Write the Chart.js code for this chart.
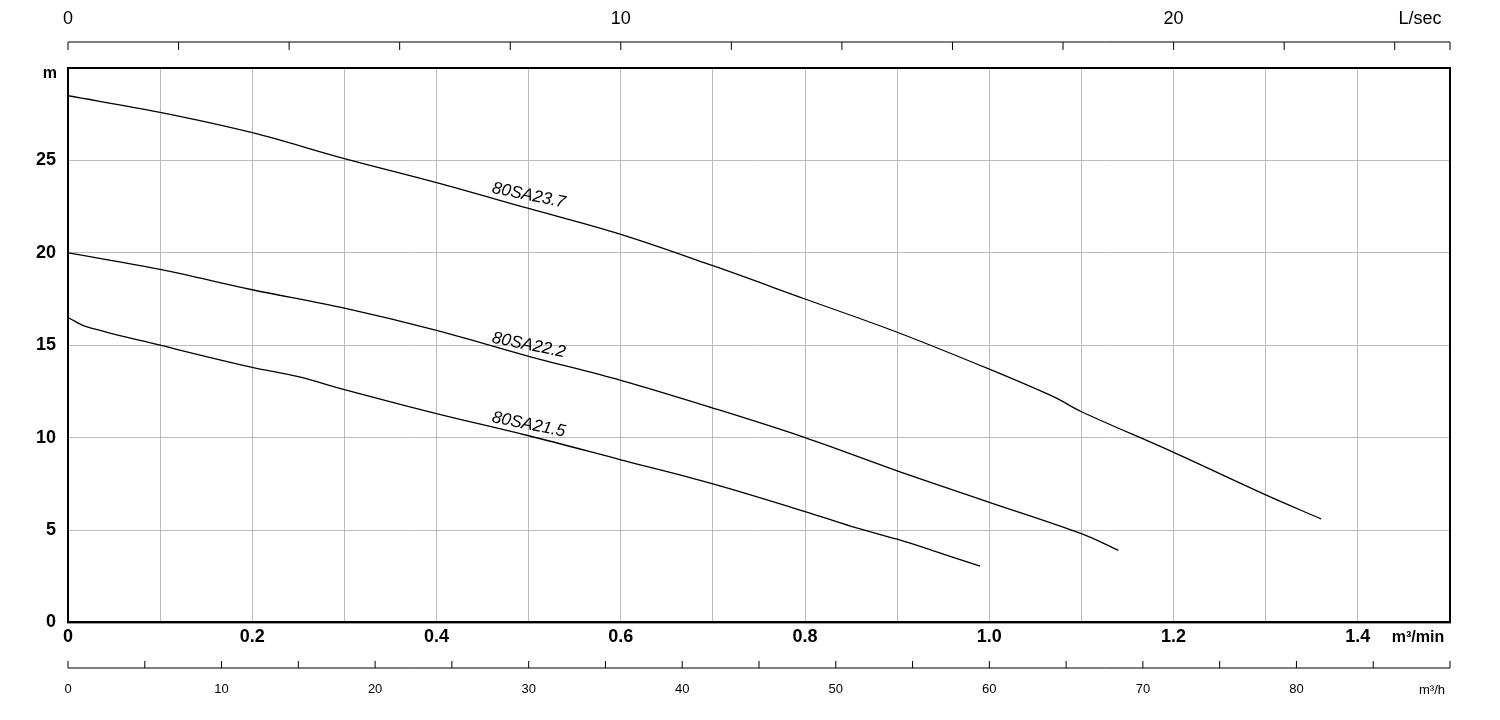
<!DOCTYPE html>
<html><head><meta charset="utf-8">
<script src="https://cdn.jsdelivr.net/npm/chart.js@4/dist/chart.umd.min.js"></script>
<style>html,body{margin:0;background:#fff}#wrap{width:1500px;height:720px}</style>
</head><body><div id="wrap"><canvas id="pumpGraph"></canvas></div>
<script>
// flow in m3/min, head in m
var curve237 = [[0,28.5],[0.1,27.6],[0.2,26.5],[0.3,25.1],[0.4,23.8],[0.5,22.4],[0.6,21],[0.7,19.3],[0.8,17.5],[0.9,15.7],[1.0,13.7],[1.07,12.2],[1.1,11.4],[1.2,9.2],[1.3,6.9],[1.36,5.6]];
var curve222 = [[0,20],[0.1,19.1],[0.2,18],[0.3,17],[0.4,15.8],[0.5,14.4],[0.6,13.1],[0.7,11.6],[0.8,10],[0.9,8.2],[1.0,6.5],[1.1,4.8],[1.14,3.9]];
var curve215 = [[0,16.5],[0.02,16],[0.1,15],[0.2,13.8],[0.25,13.3],[0.3,12.6],[0.4,11.3],[0.5,10.1],[0.6,8.8],[0.7,7.5],[0.8,6],[0.85,5.2],[0.9,4.5],[0.95,3.7],[0.99,3.05]];
var curveNames = ["80SA23.7","80SA22.2","80SA21.5"];
var labelSpots = [[0.5,23.1],[0.5,15.0],[0.5,10.7]];
var lsecTicks = [0,2,4,6,8,10,12,14,16,18,20,22,24];
var lsecLabels = [0,10,20];
var m3hTicks = [0,5,10,15,20,25,30,35,40,45,50,55,60,65,70,75,80,85,90];
var m3hLabels = [0,10,20,30,40,50,60,70,80];

function toPts(a){ return a.map(function(p){ return {x:p[0], y:p[1]}; }); }
function ds(a){ return {data:toPts(a), borderColor:'#000', borderWidth:1.3, pointRadius:0, tension:0.35, fill:false}; }

var extras = {
  id:'extras',
  afterDraw:function(chart){
    var c = chart.ctx, xs = chart.scales.x, ys = chart.scales.y, a = chart.chartArea;
    c.save();
    c.strokeStyle='#000'; c.fillStyle='#000';
    c.lineWidth=2; c.strokeRect(a.left,a.top,a.right-a.left,a.bottom-a.top);
    c.lineWidth=1;
    // top L/sec axis
    var ty = 42;
    c.beginPath(); c.moveTo(a.left,ty); c.lineTo(a.right,ty); c.stroke();
    c.font='18px "Liberation Sans", Arial'; c.textAlign='center'; c.textBaseline='middle';
    lsecTicks.forEach(function(v){ var px = xs.getPixelForValue(v*0.06); c.beginPath(); c.moveTo(px,ty); c.lineTo(px,ty+8); c.stroke(); });
    c.beginPath(); c.moveTo(a.right,ty); c.lineTo(a.right,ty+8); c.stroke();
    lsecLabels.forEach(function(v){ c.fillText(String(v), xs.getPixelForValue(v*0.06), 19); });
    c.fillText('L/sec', 1420, 19);
    // bottom m3/h axis
    var by = 668;
    c.beginPath(); c.moveTo(a.left,by); c.lineTo(a.right,by); c.stroke();
    m3hTicks.forEach(function(v){ var px = xs.getPixelForValue(v/60); c.beginPath(); c.moveTo(px,by); c.lineTo(px,by-7); c.stroke(); });
    c.font='13px "Liberation Sans", Arial';
    m3hLabels.forEach(function(v){ c.fillText(String(v), xs.getPixelForValue(v/60), 689); });
    c.fillText('m³/h', 1432, 690);
    // unit labels main axes
    c.font='bold 16px "Liberation Sans", Arial';
    c.fillText('m³/min', 1418, 638);
    c.textAlign='right'; c.fillText('m', 57, 74);
    // curve names
    c.font='italic 17px "Liberation Sans", Arial'; c.textAlign='center';
    labelSpots.forEach(function(s,i){
      c.save(); c.translate(xs.getPixelForValue(s[0]), ys.getPixelForValue(s[1]));
      c.rotate(0.2); c.fillText(curveNames[i],0,0); c.restore();
    });
    c.restore();
  }
};

new Chart(document.getElementById('pumpGraph'), {
  type:'line',
  data:{ datasets:[ds(curve237), ds(curve222), ds(curve215)] },
  options:{
    responsive:true, maintainAspectRatio:false, animation:false,
    layout:{ padding:{ top:68, right:50, bottom:68, left:0 } },
    plugins:{ legend:{display:false}, tooltip:{enabled:false} },
    scales:{
      x:{ type:'linear', min:0, max:1.5,
        ticks:{ stepSize:0.1, color:'#000', font:{size:18, weight:'bold', family:'"Liberation Sans", Arial'}, padding:4,
          callback:function(v){ var r=Math.round(v*10); if(r%2!==0 || r>=15) return ''; return r===0?'0':(r%10===0?(r/10).toFixed(1):(r/10).toString()); } },
        grid:{ color:'#bbb', drawTicks:false }, border:{ color:'#000', width:2 } },
      y:{ min:0, max:30,
        ticks:{ stepSize:5, color:'#000', font:{size:18, weight:'bold', family:'"Liberation Sans", Arial'}, padding:12,
          callback:function(v){ return v===30?'':v; } },
        grid:{ color:'#bbb', drawTicks:false }, border:{ color:'#000', width:2 },
        afterFit:function(s){ s.width = 68; } }
    }
  },
  plugins:[extras]
});
</script></body></html>
